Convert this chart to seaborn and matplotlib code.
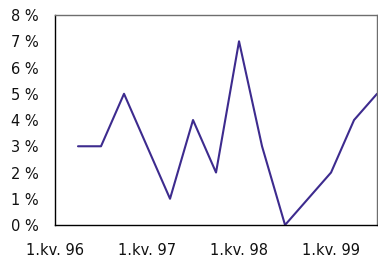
import numpy as np
import pandas as pd
import matplotlib
matplotlib.use('Agg')
import matplotlib.pyplot as plt
import matplotlib.transforms as mtransforms
import seaborn as sns

# Kvartaler 1.kv. 96 - 2.kv. 99
kvartal = ['1.kv. 96', '2.kv. 96', '3.kv. 96', '4.kv. 96',
           '1.kv. 97', '2.kv. 97', '3.kv. 97', '4.kv. 97',
           '1.kv. 98', '2.kv. 98', '3.kv. 98', '4.kv. 98',
           '1.kv. 99', '2.kv. 99']
verdi = [3, 3, 5, 3, 1, 4, 2, 7, 3, 0, 1, 2, 4, 5]
y_ticks = [0, 1, 2, 3, 4, 5, 6, 7, 8]

df = pd.DataFrame({'nr': np.arange(len(kvartal)), 'kvartal': kvartal, 'verdi': verdi})

sns.set_style('white')
plt.rcParams['font.family'] = ['DejaVu Sans']

fig = plt.figure(figsize=(3.78, 2.57), dpi=100)
ax = fig.add_axes([0.1455, 0.1245, 0.852, 0.817])

sns.lineplot(data=df, x='nr', y='verdi', color='#3d2b8e', linewidth=1.5, ax=ax)

ax.set_xlim(-1, len(kvartal) - 1)
ax.set_ylim(0, 8)
ax.set_yticks(y_ticks)
ax.set_yticklabels([f'{v} %' for v in y_ticks])

ax.set_xticks(df['nr'])
labels = [k if k.startswith('1.') else '' for k in kvartal]
ax.set_xticklabels(labels)

ax.tick_params(axis='both', direction='in', length=4.5, width=0.9, color='black',
               labelsize=10.5, pad=12, labelcolor='#111111')
ax.tick_params(axis='x', pad=13)

# etikettene står et kvartal til venstre for merket
offset = mtransforms.ScaledTranslation(-23 / 100, 0, fig.dpi_scale_trans)
for lab in ax.get_xticklabels():
    lab.set_transform(lab.get_transform() + offset)

ax.set_xlabel('')
ax.set_ylabel('')
for side in ['left', 'bottom']:
    ax.spines[side].set_color('black')
    ax.spines[side].set_linewidth(1.0)
for side in ['top', 'right']:
    ax.spines[side].set_color('#6e6e6e')
    ax.spines[side].set_linewidth(1.0)

fig.savefig('out.png', dpi=100)
